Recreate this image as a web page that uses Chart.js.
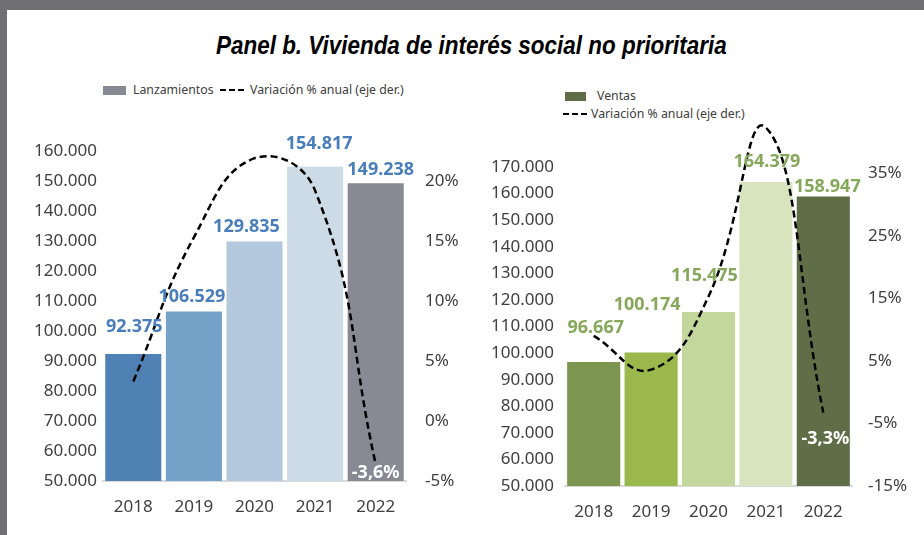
<!DOCTYPE html>
<html>
<head>
<meta charset="utf-8">
<script src="https://cdn.jsdelivr.net/npm/chart.js@4.4.1/dist/chart.umd.min.js"></script>
<style>
  html, body { margin: 0; padding: 0; background: #fff; }
  body { width: 924px; height: 535px; position: relative; overflow: hidden; font-family: "Noto Sans", sans-serif; }
  .bar-top { position: absolute; left: 0; top: 0; width: 924px; height: 10px; background: #707072; }
  .bar-left { position: absolute; left: 0; top: 0; width: 7px; height: 535px; background: #707072; }
  .title { position: absolute; left: 216px; top: 31px; white-space: nowrap; transform-origin: 0 0;
    font: italic bold 25px "Liberation Sans", sans-serif; color: #000; }
  canvas { position: absolute; top: 0; }
  .lg { position: absolute; font-size: 12.3px; color: #404040; white-space: nowrap; line-height: 15px; }
  .box { display: inline-block; width: 23px; height: 9px; vertical-align: -1px; margin-right: 7px; }
  .dash { display: inline-block; width: 26px; height: 2.5px; vertical-align: 3px; margin-right: 4px;
    background: repeating-linear-gradient(to right, #000 0 6px, transparent 6px 9px); }
</style>
</head>
<body>
<div class="bar-top"></div>
<div class="bar-left"></div>
<div class="title" id="title">Panel b. Vivienda de interés social no prioritaria</div>

<div class="lg" style="left:103px; top:82px;"><span class="box" style="background:#878a93"></span>Lanzamientos&nbsp;&nbsp;<span class="dash"></span>Variación % anual (eje der.)</div>
<div class="lg" style="left:565px; top:88px;"><span class="box" style="background:#5f6e46;width:21px;margin-right:11px"></span>Ventas</div>
<div class="lg" style="left:563px; top:106px;"><span class="dash" style="margin-right:2px"></span>Variación % anual (eje der.)</div>

<canvas id="leftChart" style="left:0px" width="470" height="535"></canvas>
<canvas id="rightChart" style="left:470px" width="454" height="535"></canvas>

<script>
// datos
const years = ['2018', '2019', '2020', '2021', '2022'];
const lanzamientos = [92375, 106529, 129835, 154817, 149238];
const varLanzamientos = [3.3, 15.3, 21.9, 19.2, -3.6];
const ventas = [96667, 100174, 115475, 164379, 158947];
const varVentas = [9.0, 3.6, 15.3, 42.3, -3.3];
const ticksPctLanz = [-5, 0, 5, 10, 15, 20];
const ticksPctVentas = [-15, -5, 5, 15, 25, 35];

const coloresLanz = ['#4f81b5', '#75a2c9', '#b4c9de', '#cddbe7', '#878a93'];
const coloresVentas = ['#7c9550', '#9ab84c', '#c3d69b', '#d8e4bd', '#5f6e46'];

// titulo condensado al ancho del original
const t = document.getElementById('title');
t.style.transform = 'scaleX(' + (511 / t.offsetWidth) + ')';

function miles(v) {
  return String(Math.round(v)).replace(/\B(?=(\d{3})+(?!\d))/g, '.');
}
function pct(v) {
  return v.toFixed(1).replace('.', ',') + '%';
}

const tickFont = { family: '"Noto Sans"', size: 17 };
const tickColor = '#404040';

// etiquetas de barras y ultimo punto de la linea
const valueLabels = {
  id: 'valueLabels',
  afterDatasetsDraw(chart, args, opts) {
    const ctx = chart.ctx;
    ctx.save();
    ctx.textAlign = 'center';
    ctx.textBaseline = 'middle';
    ctx.font = 'bold 18px "Noto Sans"';
    ctx.fillStyle = opts.color;
    const bars = chart.getDatasetMeta(0).data;
    bars.forEach((el, i) => {
      const off = opts.barOffsets[i];
      ctx.fillText(miles(chart.data.datasets[0].data[i]), el.x + off[0], el.y - off[1]);
    });
    const pts = chart.getDatasetMeta(1).data;
    const last = pts.length - 1;
    ctx.fillStyle = '#ffffff';
    ctx.fillText(pct(chart.data.datasets[1].data[last]), pts[last].x + opts.lastOffset[0], pts[last].y + opts.lastOffset[1]);
    ctx.restore();
  }
};

function makeChart(id, cfg) {
  const ctx = document.getElementById(id).getContext('2d');
  return new Chart(ctx, {
    type: 'bar',
    data: {
      labels: years,
      datasets: [
        {
          type: 'bar',
          data: cfg.bars,
          backgroundColor: cfg.colors,
          yAxisID: 'y',
          categoryPercentage: 1,
          barPercentage: 0.925,
          order: 1
        },
        {
          type: 'line',
          data: cfg.line,
          yAxisID: 'y1',
          borderColor: '#000',
          borderWidth: 2.5,
          borderDash: [7, 4],
          pointRadius: 0,
          tension: 0.45,
          clip: false,
          order: 0
        }
      ]
    },
    options: {
      responsive: false,
      animation: false,
      layout: { padding: { top: cfg.top, bottom: cfg.bottom, left: 0, right: 0 } },
      plugins: {
        legend: { display: false },
        tooltip: { enabled: false },
        valueLabels: { color: cfg.labelColor, barOffsets: cfg.barOffsets, lastOffset: cfg.lastOffset }
      },
      scales: {
        x: {
          grid: { display: false, drawTicks: false },
          border: { display: true, color: '#d9d9d9', width: 2 },
          ticks: { font: tickFont, color: tickColor, padding: 16 },
          afterFit(s) { s.height = 45; }
        },
        y: {
          position: 'left',
          min: cfg.yMin, max: cfg.yMax,
          grid: { display: false, drawTicks: false },
          border: { display: false },
          ticks: { stepSize: 10000, font: tickFont, color: tickColor, padding: cfg.leftPad, callback: v => miles(v) },
          afterFit(s) { s.width = cfg.leftWidth; }
        },
        y1: {
          position: 'right',
          min: cfg.pMin, max: cfg.pMax,
          grid: { display: false, drawTicks: false },
          border: { display: false },
          ticks: { font: tickFont, color: tickColor, padding: cfg.rightPad, callback: v => v + '%' },
          afterBuildTicks(s) { s.ticks = cfg.pTicks.map(v => ({ value: v })); },
          afterFit(s) { s.width = cfg.rightWidth; }
        }
      }
    },
    plugins: [valueLabels]
  });
}

makeChart('leftChart', {
  bars: lanzamientos, line: varLanzamientos, colors: coloresLanz,
  labelColor: '#4a7ebb',
  barOffsets: [[1, 27], [-2, 15], [-8, 15], [4, 23], [5, 13]],
  lastOffset: [0, 9],
  top: 151, bottom: 9,
  yMin: 50000, yMax: 160000,
  pMin: -5, pMax: 22.5, pTicks: ticksPctLanz,
  leftWidth: 103, rightWidth: 64, leftPad: 6, rightPad: 19
});

makeChart('rightChart', {
  bars: ventas, line: varVentas, colors: coloresVentas,
  labelColor: '#86a85a',
  barOffsets: [[2, 34], [-4, 48], [-4, 36], [1, 20], [4, 10]],
  lastOffset: [2, 26],
  top: 167, bottom: 4,
  yMin: 50000, yMax: 170000,
  pMin: -15, pMax: 36, pTicks: ticksPctVentas,
  leftWidth: 95, rightWidth: 72, leftPad: 11, rightPad: 16
});
</script>
</body>
</html>
